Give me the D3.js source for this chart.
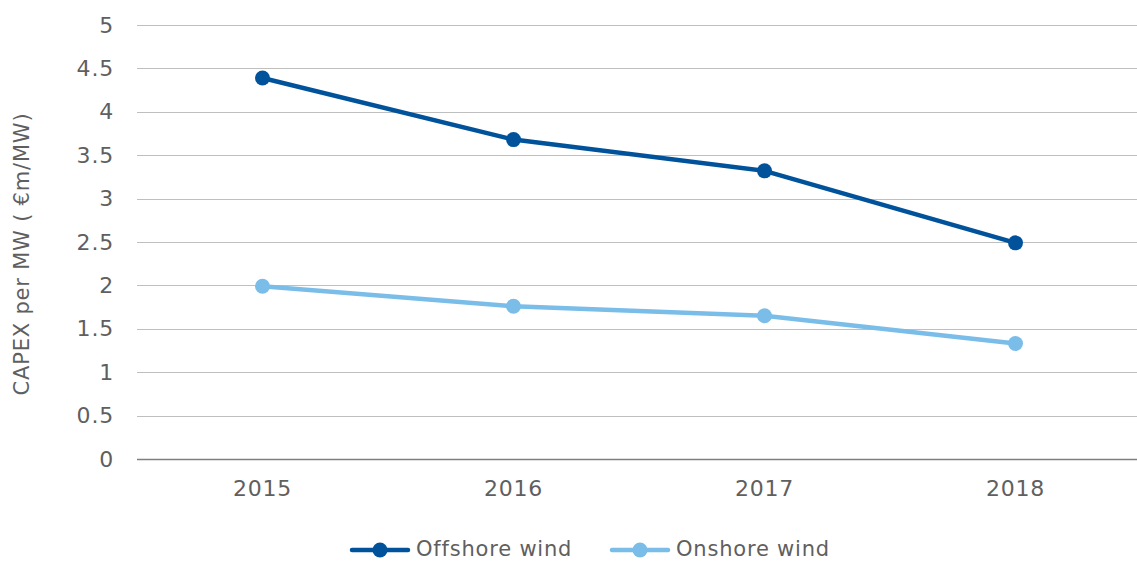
<!DOCTYPE html>
<html>
<head>
<meta charset="utf-8">
<script src="https://cdn.jsdelivr.net/npm/d3@7"></script>
<style>
  body { margin: 0; background: #fff; }
  svg text { font-family: "DejaVu Sans", "Noto Sans", sans-serif; fill: #5f5f5f; letter-spacing: 0.8px; }
</style>
</head>
<body>
<svg id="visu" width="1137" height="562"></svg>
<script>
var years = ["2015", "2016", "2017", "2018"];
var offshore = [4.39, 3.68, 3.32, 2.49];
var onshore = [1.99, 1.76, 1.65, 1.33];
var yTicks = [0, 0.5, 1, 1.5, 2, 2.5, 3, 3.5, 4, 4.5, 5];
var seriesNames = ["Offshore wind", "Onshore wind"];
var seriesColors = ["#00539b", "#7abde8"];

var vis = d3.select("#visu"),
    WIDTH = 1137,
    HEIGHT = 562,
    MARGINS = { top: 25, right: 0, bottom: 103, left: 137 };

var xScale = d3.scaleBand()
  .domain(years)
  .range([MARGINS.left, MARGINS.left + 4 * 251]);

var yScale = d3.scaleLinear()
  .domain([0, 5])
  .range([459, MARGINS.top]);

// gridlines
vis.append("g")
  .selectAll("line")
  .data(yTicks)
  .enter().append("line")
  .attr("x1", MARGINS.left)
  .attr("x2", WIDTH)
  .attr("y1", function(d) { return Math.round(yScale(d)) + 0.5; })
  .attr("y2", function(d) { return Math.round(yScale(d)) + 0.5; })
  .attr("stroke", function(d) { return d === 0 ? "#7f7f7f" : "#bfbfbf"; })
  .attr("stroke-width", function(d) { return d === 0 ? 1.5 : 1.2; });

// y axis labels
var yAxis = d3.axisLeft(yScale).tickValues(yTicks).tickSize(0).tickPadding(23)
  .tickFormat(function(d) { return d3.format("")(d); });
var gy = vis.append("g")
  .attr("transform", "translate(" + MARGINS.left + ",0)")
  .call(yAxis);
gy.select(".domain").remove();
gy.selectAll("text").attr("font-size", 22).attr("fill", "#5f5f5f")
  .style("font-family", "'DejaVu Sans', sans-serif");

// x axis labels
var xAxis = d3.axisBottom(xScale).tickSize(0).tickPadding(21);
var gx = vis.append("g")
  .attr("transform", "translate(0,459)")
  .call(xAxis);
gx.select(".domain").remove();
gx.selectAll("text").attr("font-size", 22).attr("fill", "#5f5f5f")
  .style("font-family", "'DejaVu Sans', sans-serif");

// y axis title
vis.append("text")
  .attr("transform", "translate(29,254) rotate(-90)")
  .attr("text-anchor", "middle")
  .attr("font-size", 21)
  .text("CAPEX per MW ( €m/MW)");

var lineGen = d3.line()
  .x(function(d, i) { return xScale(years[i]) + xScale.bandwidth() / 2; })
  .y(function(d) { return yScale(d); });

[offshore, onshore].forEach(function(series, s) {
  vis.append("path")
    .attr("d", lineGen(series))
    .attr("fill", "none")
    .attr("stroke", seriesColors[s])
    .attr("stroke-width", 4.5)
    .attr("stroke-linejoin", "round");

  vis.append("g")
    .selectAll("circle")
    .data(series)
    .enter().append("circle")
    .attr("cx", function(d, i) { return xScale(years[i]) + xScale.bandwidth() / 2; })
    .attr("cy", function(d) { return yScale(d); })
    .attr("r", 7.5)
    .attr("fill", seriesColors[s]);
});

// legend
var legendX = [352, 612];
seriesNames.forEach(function(name, s) {
  var g = vis.append("g").attr("transform", "translate(" + legendX[s] + ",550)");
  g.append("line")
    .attr("x1", 0).attr("x2", 56)
    .attr("stroke", seriesColors[s])
    .attr("stroke-width", 4.5)
    .attr("stroke-linecap", "round");
  g.append("circle").attr("cx", 28).attr("r", 7.5).attr("fill", seriesColors[s]);
  g.append("text")
    .attr("x", 64)
    .attr("y", 6)
    .attr("font-size", 21)
    .text(name);
});
</script>
</body>
</html>
